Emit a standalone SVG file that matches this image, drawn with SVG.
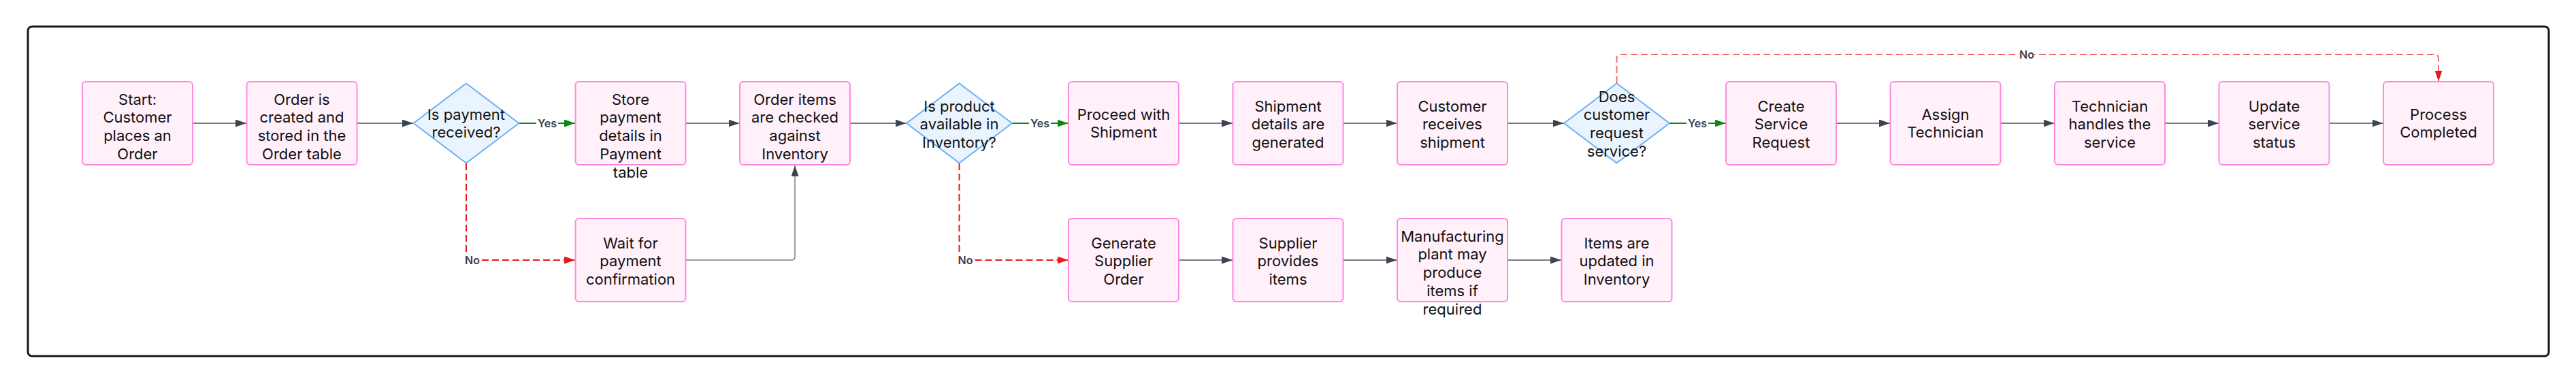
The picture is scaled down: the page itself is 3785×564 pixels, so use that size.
<svg xmlns="http://www.w3.org/2000/svg" width="3785" height="564" viewBox="0 0 3785 564">
<style>
.box{fill:#fff0fa;stroke:#ff88df;stroke-width:2}
.dia{fill:#eaf4ff;stroke:#6aaef5;stroke-width:2;stroke-linejoin:round}
.t{font-family:Inter,"Liberation Sans",sans-serif;font-size:22px;fill:#111;text-anchor:middle}
.c{fill:none;stroke:#4a505b;stroke-width:1.5}
.cl{fill:none;stroke:#7a7f88;stroke-width:1.5}
.g{fill:none;stroke:#0a8a0a;stroke-width:2}
.r{fill:none;stroke:#e8191c;stroke-width:2;stroke-dasharray:10 5}
.rl{fill:none;stroke:#ef6f6f;stroke-width:2;stroke-dasharray:10 5}
.lb{font-family:Inter,"Liberation Sans",sans-serif;font-size:16px;font-weight:600;fill:#3b414d;text-anchor:middle}
.lbg{fill:#fff}
</style>
<defs>
<marker id="ad" markerUnits="userSpaceOnUse" markerWidth="16" markerHeight="11" refX="16" refY="5.5" orient="auto"><path d="M0,0 L16,5.5 L0,11 z" fill="#3d4350"/></marker>
<marker id="ag" markerUnits="userSpaceOnUse" markerWidth="16" markerHeight="11" refX="16" refY="5.5" orient="auto"><path d="M0,0 L16,5.5 L0,11 z" fill="#0a8a0a"/></marker>
<marker id="ar" markerUnits="userSpaceOnUse" markerWidth="16" markerHeight="11" refX="16" refY="5.5" orient="auto"><path d="M0,0 L16,5.5 L0,11 z" fill="#e8191c"/></marker>
</defs>
<rect x="0" y="0" width="3785" height="564" fill="#fff"/>
<rect id="frame" x="41" y="39" width="3704" height="484" rx="6" fill="none" stroke="#161616" stroke-width="3"/>

<g id="connectors">
<path class="c" d="M283,181 H362" marker-end="url(#ad)"/>
<path class="c" d="M524.5,181 H607" marker-end="url(#ad)"/>
<path class="g" d="M762.5,181 H845" marker-end="url(#ag)"/>
<path class="c" d="M1007.5,181 H1086.5" marker-end="url(#ad)"/>
<path class="c" d="M1249,181 H1331.5" marker-end="url(#ad)"/>
<path class="g" d="M1487,181 H1569.5" marker-end="url(#ag)"/>
<path class="c" d="M1732,181 H1811" marker-end="url(#ad)"/>
<path class="c" d="M1973.5,181 H2052.5" marker-end="url(#ad)"/>
<path class="c" d="M2215,181 H2297.5" marker-end="url(#ad)"/>
<path class="g" d="M2453,181 H2535.5" marker-end="url(#ag)"/>
<path class="c" d="M2698,181 H2777" marker-end="url(#ad)"/>
<path class="c" d="M2939.5,181 H3018.5" marker-end="url(#ad)"/>
<path class="c" d="M3181,181 H3260" marker-end="url(#ad)"/>
<path class="c" d="M3422.5,181 H3501.5" marker-end="url(#ad)"/>
<path class="r" d="M685,240 V382 H845" marker-end="url(#ar)"/>
<path class="r" d="M1409.5,240 V382 H1569.5" marker-end="url(#ar)"/>
<path class="cl" d="M1007.5,382 H1163 Q1168,382 1168,377 V243" marker-end="url(#ad)"/>
<path class="c" d="M1732,382 H1811" marker-end="url(#ad)"/>
<path class="c" d="M1973.5,382 H2052.5" marker-end="url(#ad)"/>
<path class="c" d="M2215,382 H2294" marker-end="url(#ad)"/>
<path class="rl" d="M2375.5,122 V86 Q2375.5,80 2381.5,80 H3577 Q3583,80 3583,86 V119.5" marker-end="url(#ar)"/>
<rect class="lbg" x="788" y="172" width="32" height="18"/><text class="lb" x="804" y="187">Yes</text>
<rect class="lbg" x="1512" y="172" width="32" height="18"/><text class="lb" x="1528" y="187">Yes</text>
<rect class="lbg" x="2478" y="172" width="32" height="18"/><text class="lb" x="2494" y="187">Yes</text>
<rect class="lbg" x="683" y="373" width="22" height="18"/><text class="lb" x="694" y="388">No</text>
<rect class="lbg" x="1407.5" y="373" width="22" height="18"/><text class="lb" x="1418.5" y="388">No</text>
<rect class="lbg" x="2967" y="71" width="22" height="18"/><text class="lb" x="2978" y="86">No</text>
</g>

<g id="n_start"><rect class="box" x="121" y="120" width="162" height="122" rx="5"/>
<text class="t"><tspan x="202" y="153.7">Start:</tspan><tspan x="202" dy="26.7">Customer</tspan><tspan x="202" dy="26.7">places an</tspan><tspan x="202" dy="26.7">Order</tspan></text></g>
<g id="n_order"><rect class="box" x="362.5" y="120" width="162" height="122" rx="5"/>
<text class="t"><tspan x="443.5" y="153.7">Order is</tspan><tspan x="443.5" dy="26.7">created and</tspan><tspan x="443.5" dy="26.7">stored in the</tspan><tspan x="443.5" dy="26.7">Order table</tspan></text></g>
<g id="n_paydec"><path class="dia" d="M607.5,181 L685,122.5 L762.5,181 L685,239.5 Z"/>
<text class="t"><tspan x="685" y="175.5">Is payment</tspan><tspan x="685" dy="26.7">received?</tspan></text></g>
<g id="n_store"><rect class="box" x="845.5" y="120" width="162" height="122" rx="5"/>
<text class="t"><tspan x="926.5" y="153.7">Store</tspan><tspan x="926.5" dy="26.7">payment</tspan><tspan x="926.5" dy="26.7">details in</tspan><tspan x="926.5" dy="26.7">Payment</tspan><tspan x="926.5" dy="26.7">table</tspan></text></g>
<g id="n_wait"><rect class="box" x="845.5" y="321" width="162" height="122" rx="5"/>
<text class="t"><tspan x="926.5" y="364.7">Wait for</tspan><tspan x="926.5" dy="26.7">payment</tspan><tspan x="926.5" dy="26.7">confirmation</tspan></text></g>
<g id="n_check"><rect class="box" x="1087" y="120" width="162" height="122" rx="5"/>
<text class="t"><tspan x="1168" y="153.7">Order items</tspan><tspan x="1168" dy="26.7">are checked</tspan><tspan x="1168" dy="26.7">against</tspan><tspan x="1168" dy="26.7">Inventory</tspan></text></g>
<g id="n_invdec"><path class="dia" d="M1332,181 L1409.5,122.5 L1487,181 L1409.5,239.5 Z"/>
<text class="t"><tspan x="1409.5" y="163.7">Is product</tspan><tspan x="1409.5" dy="26.7">available in</tspan><tspan x="1409.5" dy="26.7">Inventory?</tspan></text></g>
<g id="n_proceed"><rect class="box" x="1570" y="120" width="162" height="122" rx="5"/>
<text class="t"><tspan x="1651" y="175.5">Proceed with</tspan><tspan x="1651" dy="26.7">Shipment</tspan></text></g>
<g id="n_shipdet"><rect class="box" x="1811.5" y="120" width="162" height="122" rx="5"/>
<text class="t"><tspan x="1892.5" y="163.7">Shipment</tspan><tspan x="1892.5" dy="26.7">details are</tspan><tspan x="1892.5" dy="26.7">generated</tspan></text></g>
<g id="n_receives"><rect class="box" x="2053" y="120" width="162" height="122" rx="5"/>
<text class="t"><tspan x="2134" y="163.7">Customer</tspan><tspan x="2134" dy="26.7">receives</tspan><tspan x="2134" dy="26.7">shipment</tspan></text></g>
<g id="n_svcdec"><path class="dia" d="M2298,181 L2375.5,122.5 L2453,181 L2375.5,239.5 Z"/>
<text class="t"><tspan x="2375.5" y="149.7">Does</tspan><tspan x="2375.5" dy="26.7">customer</tspan><tspan x="2375.5" dy="26.7">request</tspan><tspan x="2375.5" dy="26.7">service?</tspan></text></g>
<g id="n_create"><rect class="box" x="2536" y="120" width="162" height="122" rx="5"/>
<text class="t"><tspan x="2617" y="163.7">Create</tspan><tspan x="2617" dy="26.7">Service</tspan><tspan x="2617" dy="26.7">Request</tspan></text></g>
<g id="n_assign"><rect class="box" x="2777.5" y="120" width="162" height="122" rx="5"/>
<text class="t"><tspan x="2858.5" y="175.5">Assign</tspan><tspan x="2858.5" dy="26.7">Technician</tspan></text></g>
<g id="n_handles"><rect class="box" x="3019" y="120" width="162" height="122" rx="5"/>
<text class="t"><tspan x="3100" y="163.7">Technician</tspan><tspan x="3100" dy="26.7">handles the</tspan><tspan x="3100" dy="26.7">service</tspan></text></g>
<g id="n_update"><rect class="box" x="3260.5" y="120" width="162" height="122" rx="5"/>
<text class="t"><tspan x="3341.5" y="163.7">Update</tspan><tspan x="3341.5" dy="26.7">service</tspan><tspan x="3341.5" dy="26.7">status</tspan></text></g>
<g id="n_done"><rect class="box" x="3502" y="120" width="162" height="122" rx="5"/>
<text class="t"><tspan x="3583" y="175.5">Process</tspan><tspan x="3583" dy="26.7">Completed</tspan></text></g>
<g id="n_genorder"><rect class="box" x="1570" y="321" width="162" height="122" rx="5"/>
<text class="t"><tspan x="1651" y="364.7">Generate</tspan><tspan x="1651" dy="26.7">Supplier</tspan><tspan x="1651" dy="26.7">Order</tspan></text></g>
<g id="n_supplier"><rect class="box" x="1811.5" y="321" width="162" height="122" rx="5"/>
<text class="t"><tspan x="1892.5" y="364.7">Supplier</tspan><tspan x="1892.5" dy="26.7">provides</tspan><tspan x="1892.5" dy="26.7">items</tspan></text></g>
<g id="n_manuf"><rect class="box" x="2053" y="321" width="162" height="122" rx="5"/>
<text class="t"><tspan x="2134" y="354.7">Manufacturing</tspan><tspan x="2134" dy="26.7">plant may</tspan><tspan x="2134" dy="26.7">produce</tspan><tspan x="2134" dy="26.7">items if</tspan><tspan x="2134" dy="26.7">required</tspan></text></g>
<g id="n_updinv"><rect class="box" x="2294.5" y="321" width="162" height="122" rx="5"/>
<text class="t"><tspan x="2375.5" y="364.7">Items are</tspan><tspan x="2375.5" dy="26.7">updated in</tspan><tspan x="2375.5" dy="26.7">Inventory</tspan></text></g>
</svg>
